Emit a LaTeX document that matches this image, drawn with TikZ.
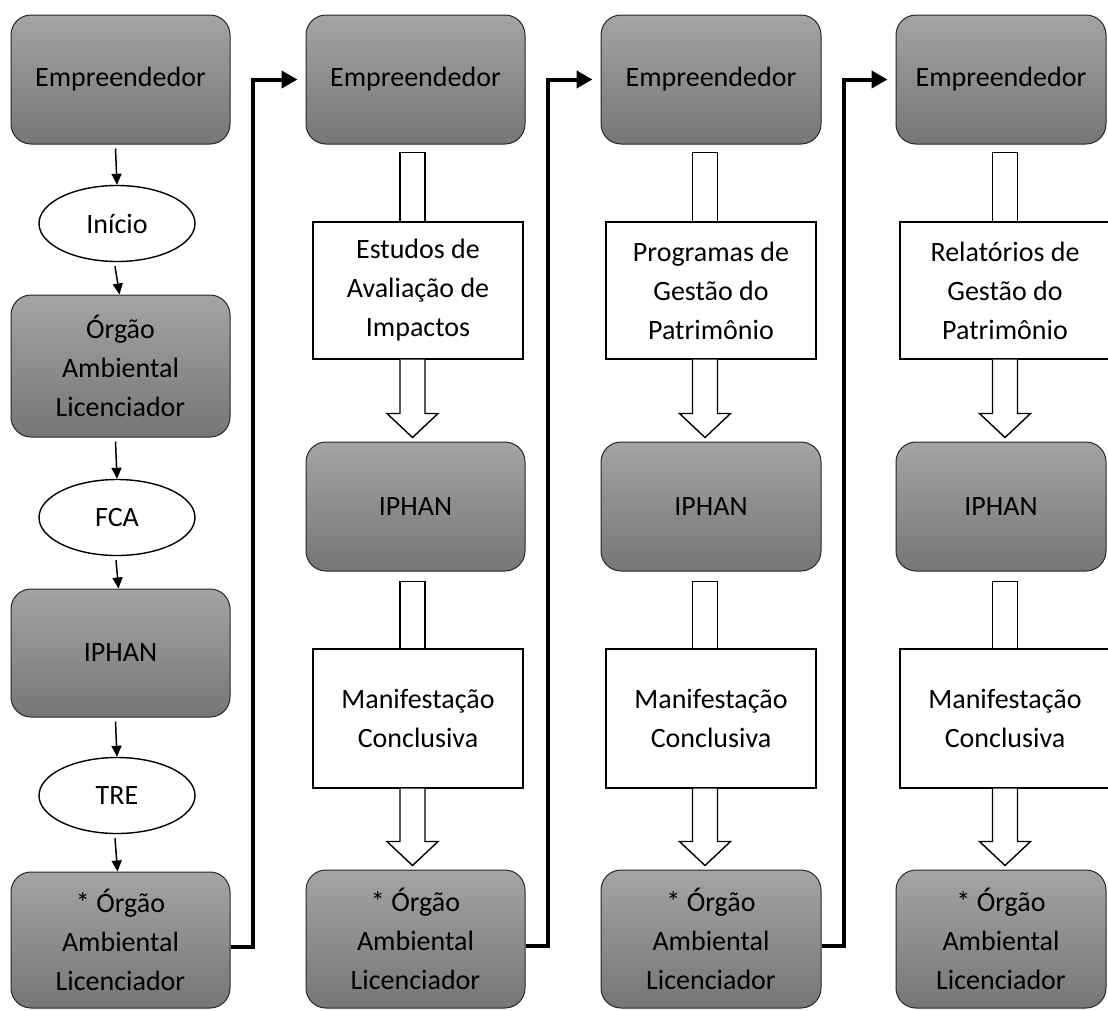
\documentclass[tikz,border=0pt]{standalone}
\usepackage{fontspec}
\setmainfont{Carlito}
\usetikzlibrary{shapes.geometric,arrows.meta,calc}
\definecolor{boxtop}{RGB}{164,164,164}
\definecolor{boxbot}{RGB}{118,118,118}
\begin{document}
\begin{tikzpicture}[x=1pt,y=-1pt,line join=miter,font=\fontsize{28}{39}\selectfont,
  orgao/.style={draw=black!85,line width=1pt,rounded corners=20pt,top color=boxtop,bottom color=boxbot,minimum width=219pt,align=center,inner sep=0pt},
  elipse/.style={ellipse,draw,line width=1.4pt,fill=white,minimum width=156pt,minimum height=76pt,inner sep=0pt},
  docbox/.style={draw,line width=1.4pt,fill=white,minimum width=210pt,align=center,inner sep=0pt},
  vazada/.style={draw,line width=1.4pt,fill=white},
  seta/.style={line width=1.5pt,-{Triangle[length=11pt,width=10pt]}},
  elo/.style={line width=4pt,-{Triangle[length=16pt,width=17pt]}}]
  \useasboundingbox (0,0) rectangle (1108,1010);
  % primeira coluna
  \node[orgao,minimum height=129pt] (e1) at (120.5,79.5) {Empreendedor};
  \node[elipse] (i1) at (117,223.5) {Início};
  \node[orgao,minimum height=142pt] (o1) at (120.5,366) {Órgão\\Ambiental\\Licenciador};
  \node[elipse] (f1) at (117,517.5) {FCA};
  \node[orgao,minimum height=128pt] (h1) at (120.5,653) {IPHAN};
  \node[elipse] (t1) at (117,795.5) {TRE};
  \node[orgao,minimum height=136pt] (l1) at (120.5,940) {* Órgão\\Ambiental\\Licenciador};
  \foreach \a/\b/\s/\t in {e1/i1/-5/0,i1/o1/-2/-1,o1/f1/-5/0,f1/h1/-1/-2,h1/t1/-5/0,t1/l1/-2/-3}{
    \draw[seta] ([xshift=\s pt,yshift=-4pt]\a.south) -- ([xshift=\t pt]\b.north);
  }
  % demais colunas
  \foreach \c/\cx/\w/\rx/\ax/\txt in {2/415.5/219/418/412.5/{Estudos de\\Avaliação de\\Impactos},
      3/711/220/711/705/{Programas de\\Gestão do\\Patrimônio},
      4/1001/210/1005/1005/{Relatórios de\\Gestão do\\Patrimônio}}{
    \node[orgao,minimum width=\w pt,minimum height=129pt] (e\c) at (\cx,79.5) {Empreendedor};
    \node[docbox,minimum height=137pt] (d\c) at (\rx,290.5) {\txt};
    \node[orgao,minimum width=\w pt,minimum height=129pt] (h\c) at (\cx,506.5) {IPHAN};
    \node[docbox,minimum height=139pt] (m\c) at (\rx,718.5) {Manifestação\\Conclusiva};
    \node[orgao,minimum width=\w pt,minimum height=138pt] (l\c) at (\cx,939) {* Órgão\\Ambiental\\Licenciador};
    % setas vazadas
    \draw[vazada] ($(e\c.south)+(\ax-\cx-12.5,8)$) rectangle ($(d\c.north)+(\ax-\rx+12.5,0)$);
    \draw[vazada] ($(h\c.south)+(\ax-\cx-12.5,10)$) rectangle ($(m\c.north)+(\ax-\rx+12.5,0)$);
    \foreach \p/\q in {d\c/h\c,m\c/l\c}{
      \path ($(\p.south)+(\ax-\rx,0)$) coordinate (a) ($(\q.north)+(\ax-\cx,-4)$) coordinate (b);
      \draw[vazada] ($(a)+(-12.5,0)$) -- ($(b)+(-12.5,-24)$) -- ($(b)+(-25.5,-24)$) -- (b)
        -- ($(b)+(25.5,-24)$) -- ($(b)+(12.5,-24)$) -- ($(a)+(12.5,0)$);
    }
  }
  % ligacoes entre colunas
  \foreach \a/\b in {1/2,2/3,3/4}{
    \draw[elo] ([yshift=-7pt]l\a.east) -- ++(22,0) |- ([xshift=-8pt]e\b.west);
  }
\end{tikzpicture}
\end{document}
